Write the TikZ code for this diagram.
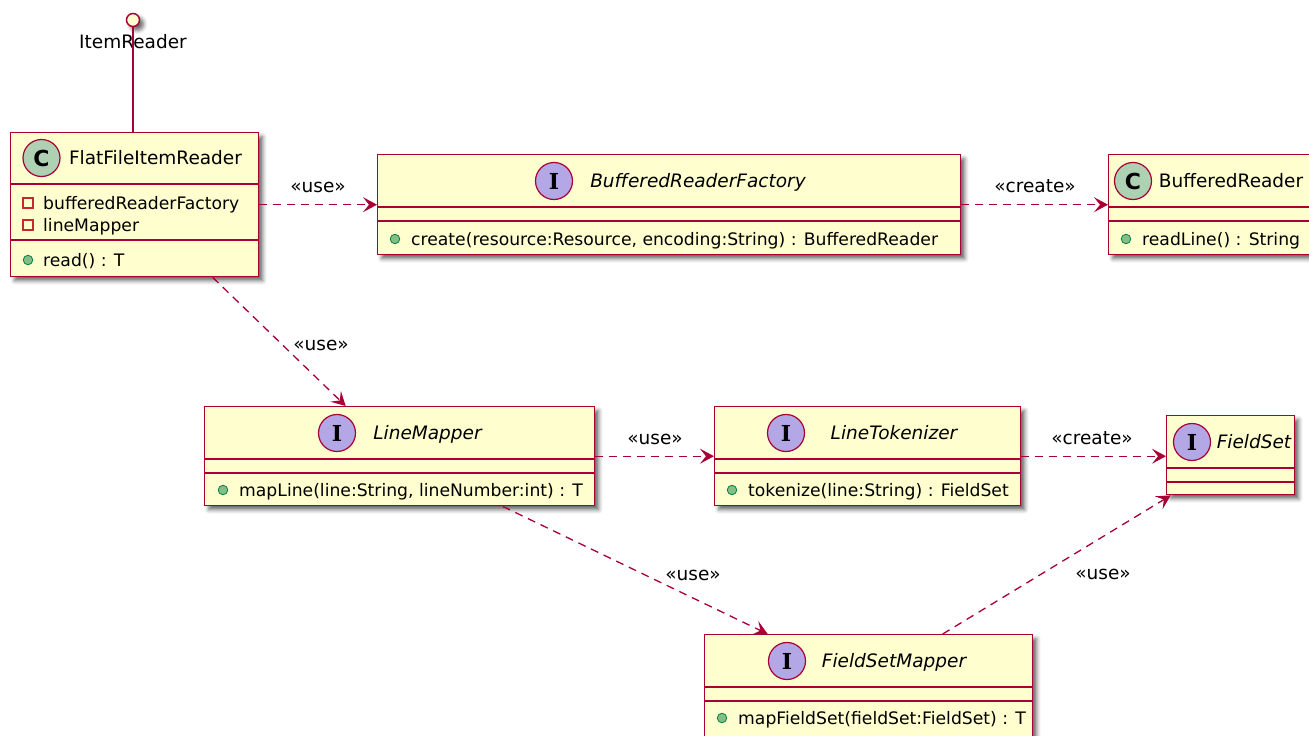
\documentclass[tikz,border=0pt]{standalone}
\usepackage{fontspec}
\setmainfont{DejaVu Sans}
\newfontfamily\iconfont{DejaVu Serif}
\usetikzlibrary{arrows.meta, shadows.blur}

\definecolor{umlborder}{HTML}{A80036}
\definecolor{umlfill}{HTML}{FEFECE}
\definecolor{classicon}{HTML}{ADD1B2}
\definecolor{ifaceicon}{HTML}{B4A7E5}
\definecolor{pubfill}{HTML}{84BE84}
\definecolor{pubdraw}{HTML}{038048}
\definecolor{privdraw}{HTML}{C82930}

\tikzstyle{umlbox} = [rectangle, draw=umlborder, fill=umlfill, line width=1.4pt, anchor=north west, inner sep=0pt, blur shadow={shadow xshift=4pt, shadow yshift=-4pt, shadow blur radius=4pt, shadow opacity=60}]
\tikzstyle{divider} = [draw=umlborder, line width=1.4pt]
\tikzstyle{classmark} = [circle, draw=umlborder, fill=classicon, line width=1.2pt, minimum size=37pt, inner sep=0pt, font=\fontsize{22}{22}\selectfont\bfseries]
\tikzstyle{ifacemark} = [classmark, fill=ifaceicon, font=\fontsize{22}{22}\selectfont\iconfont\bfseries]
\tikzstyle{classname} = [anchor=mid, inner sep=0pt, yshift=-4pt, font=\fontsize{18.5}{20}\selectfont]
\tikzstyle{ifacename} = [classname, font=\fontsize{18.5}{20}\selectfont\itshape]
\tikzstyle{member} = [anchor=mid west, inner sep=0pt, yshift=-4pt, font=\fontsize{17.2}{20}\selectfont]
\tikzstyle{pubdot} = [circle, draw=pubdraw, fill=pubfill, minimum size=9.5pt, inner sep=0pt, line width=0.8pt]
\tikzstyle{privsq} = [rectangle, draw=privdraw, minimum size=10pt, inner sep=0pt, line width=1.1pt]
\tikzstyle{stereo} = [anchor=mid, inner sep=0pt, yshift=-4pt, font=\fontsize{18.5}{20}\selectfont]
\tikzstyle{dep} = [umlborder, line width=1.3pt, dash pattern=on 8pt off 6pt, -{Stealth[length=14pt, width=15pt, inset=6pt]}]
\tikzstyle{lollipop} = [circle, draw=umlborder, fill=umlfill, line width=1.5pt, minimum size=13pt, inner sep=0pt, blur shadow={shadow xshift=4pt, shadow yshift=-4pt, shadow blur radius=4pt, shadow opacity=60}]

\begin{document}
\begin{tikzpicture}[x=1pt, y=-1pt]
\useasboundingbox (0,0) rectangle (1309,736);

% FlatFileItemReader
\node (flat) [umlbox, minimum width=248pt, minimum height=144pt] at (10,132) {};
\draw [divider] ([yshift=-52pt]flat.north west) -- ([yshift=-52pt]flat.north east);
\draw [divider] ([yshift=-108pt]flat.north west) -- ([yshift=-108pt]flat.north east);
\node (flaticon) [classmark] at (41.5,158) {C};
\node (flatname) [classname] at (155.5,158) {FlatFileItemReader};
\node (flatprivA) [privsq] at (28,203) {};
\node (flatattrA) [member] at (43,203) {bufferedReaderFactory};
\node (flatprivB) [privsq] at (28,225) {};
\node (flatattrB) [member] at (43,225) {lineMapper};
\node (flatpub) [pubdot] at (28,260) {};
\node (flatread) [member] at (43,260) {read() : T};

% ItemReader lollipop
\node (itemreader) [lollipop] at (133,20) {};
\node (itemreaderlabel) [classname] at (133,42) {ItemReader};
\draw [umlborder, line width=1.3pt] (itemreader.south) -- (itemreader.south |- flat.north);

% BufferedReaderFactory
\node (brf) [umlbox, minimum width=583pt, minimum height=100pt] at (377,154) {};
\draw [divider] ([yshift=-53pt]brf.north west) -- ([yshift=-53pt]brf.north east);
\draw [divider] ([yshift=-67pt]brf.north west) -- ([yshift=-67pt]brf.north east);
\node (brficon) [ifacemark] at (554,181) {I};
\node (brfname) [ifacename] at (698,181) {BufferedReaderFactory};
\node (brfpub) [pubdot] at (395,239) {};
\node (brfcreate) [member] at (411,239) {create(resource:Resource, encoding:String) : BufferedReader};

% BufferedReader
\node (br) [umlbox, minimum width=212pt, minimum height=100pt] at (1108,154) {};
\draw [divider] ([yshift=-53pt]br.north west) -- ([yshift=-53pt]br.north east);
\draw [divider] ([yshift=-67pt]br.north west) -- ([yshift=-67pt]br.north east);
\node (bricon) [classmark] at (1133,181) {C};
\node (brname) [classname] at (1231,181) {BufferedReader};
\node (brpub) [pubdot] at (1126,239) {};
\node (brreadline) [member] at (1142,239) {readLine() : String};

% LineMapper
\node (lm) [umlbox, minimum width=390pt, minimum height=99pt] at (204,406) {};
\draw [divider] ([yshift=-53pt]lm.north west) -- ([yshift=-53pt]lm.north east);
\draw [divider] ([yshift=-67pt]lm.north west) -- ([yshift=-67pt]lm.north east);
\node (lmicon) [ifacemark] at (337,433) {I};
\node (lmname) [ifacename] at (427.5,433) {LineMapper};
\node (lmpub) [pubdot] at (223,490) {};
\node (lmmapline) [member] at (239,490) {mapLine(line:String, lineNumber:int) : T};

% LineTokenizer
\node (lt) [umlbox, minimum width=306pt, minimum height=99pt] at (714,406) {};
\draw [divider] ([yshift=-53pt]lt.north west) -- ([yshift=-53pt]lt.north east);
\draw [divider] ([yshift=-67pt]lt.north west) -- ([yshift=-67pt]lt.north east);
\node (lticon) [ifacemark] at (786,433) {I};
\node (ltname) [ifacename] at (894,433) {LineTokenizer};
\node (ltpub) [pubdot] at (732,490) {};
\node (lttokenize) [member] at (748,490) {tokenize(line:String) : FieldSet};

% FieldSet
\node (fs) [umlbox, minimum width=128pt, minimum height=79pt] at (1166,415) {};
\draw [divider] ([yshift=-53pt]fs.north west) -- ([yshift=-53pt]fs.north east);
\draw [divider] ([yshift=-67pt]fs.north west) -- ([yshift=-67pt]fs.north east);
\node (fsicon) [ifacemark] at (1192,442) {I};
\node (fsname) [ifacename] at (1254,442) {FieldSet};

% FieldSetMapper
\node (fsm) [umlbox, minimum width=328pt, minimum height=104pt] at (704,634) {};
\draw [divider] ([yshift=-53pt]fsm.north west) -- ([yshift=-53pt]fsm.north east);
\draw [divider] ([yshift=-67pt]fsm.north west) -- ([yshift=-67pt]fsm.north east);
\node (fsmicon) [ifacemark] at (787,661) {I};
\node (fsmname) [ifacename] at (894,661) {FieldSetMapper};
\node (fsmpub) [pubdot] at (722,718) {};
\node (fsmmap) [member] at (738,718) {mapFieldSet(fieldSet:FieldSet) : T};

% Dependencies
\draw [dep] (flat) -- (brf);
\node (useA) [stereo] at (318,186) {«use»};
\draw [dep] (brf) -- (br);
\node (createA) [stereo] at (1035,186) {«create»};
\draw [dep] ([xshift=78pt]flat.south) -- ([xshift=-54pt]lm.north);
\node (useB) [stereo] at (321,344) {«use»};
\draw [dep] (lm) -- (lt);
\node (useC) [stereo] at (655,438) {«use»};
\draw [dep] (lt.east) -- (lt.east -| fs.west);
\node (createB) [stereo] at (1092,438) {«create»};
\draw [dep] ([xshift=103pt]lm.south) -- ([xshift=-101pt]fsm.north);
\node (useD) [stereo] at (693,574) {«use»};
\draw [dep] ([xshift=74pt]fsm.north) -- ([xshift=-60pt]fs.south);
\node (useE) [stereo] at (1103,573) {«use»};

\end{tikzpicture}
\end{document}
